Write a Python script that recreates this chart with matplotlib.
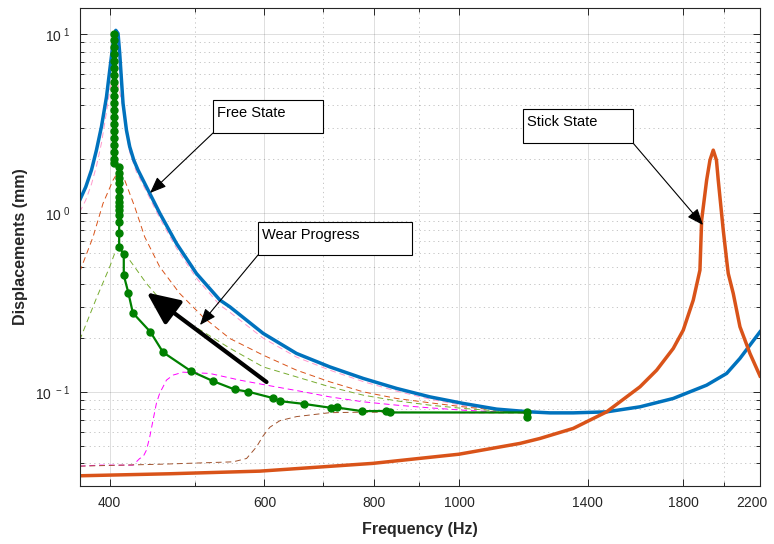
import numpy as np
import matplotlib
matplotlib.use('Agg')
import matplotlib.pyplot as plt
from matplotlib.patches import Rectangle, ArrowStyle
from matplotlib.ticker import FixedLocator, LogLocator, NullFormatter
from matplotlib.transforms import ScaledTranslation

plt.rcParams['font.family'] = ['Liberation Sans', 'DejaVu Sans']
plt.rcParams['mathtext.fontset'] = 'custom'
plt.rcParams['mathtext.rm'] = 'Liberation Sans'

# ----------------------------------------------------------------------------
## Data
# free state FRF
free_f = [369.7, 375.6, 381.3, 386.3, 391.4, 396.6, 400.0, 403.5, 406.4, 408.8, 410.6, 412.5, 414.2,
          417.9, 421.5, 426.0, 430.8, 444.2, 456.0, 476.5, 502.1, 533.9, 547.9, 598.0, 652.7, 712.2,
          777.4, 848.6, 925.9, 1010.4, 1102.9, 1203.5, 1268.4, 1348.1, 1471.5, 1606.1, 1752.5, 1912.8,
          2015.8, 2087.3, 2142.8, 2200.0]
free_y = [1.18, 1.40, 1.74, 2.25, 3.04, 4.46, 6.29, 8.87, 10.5, 10.1, 7.80, 5.53, 4.10,
          2.91, 2.35, 1.98, 1.74, 1.29, 1.00, 0.677, 0.460, 0.327, 0.300, 0.213, 0.1645, 0.1384,
          0.1193, 0.1049, 0.0941, 0.0865, 0.0804, 0.0776, 0.0766, 0.0766, 0.0776, 0.0828, 0.0922, 0.1094,
          0.1272, 0.1543, 0.1831, 0.2173]

# stick state FRF
stick_f = [369.7, 468.1, 593.0, 797.2, 999.0, 1172.4, 1235.5, 1348.1, 1471.5, 1606.1, 1677.9, 1752.5,
           1799.0, 1846.8, 1879.5, 1887.9, 1912.8, 1929.5, 1946.2, 1962.6, 1971.9, 1998.0, 2015.8,
           2024.3, 2051.0, 2087.3, 2142.8, 2200.0]
stick_y = [0.0341, 0.0350, 0.0362, 0.0400, 0.0450, 0.0517, 0.0551, 0.0627, 0.0776, 0.1071, 0.1327, 0.1754,
           0.2221, 0.3266, 0.4804, 0.914, 1.529, 1.978, 2.249, 1.978, 1.529, 0.803, 0.546,
           0.460, 0.356, 0.232, 0.1645, 0.1231]

# wear progress (peak tracking)
wear_f = [404, 404, 404, 404, 404, 404, 404, 404, 404, 404, 404, 404, 404, 404, 404, 404, 404, 404, 404, 404,
          410, 410, 410, 410, 410, 410, 410, 410, 410, 410, 410, 410, 410,
          415, 415, 420, 425, 445, 460, 495, 525, 555, 575, 614, 625, 665, 715, 725, 775, 825, 835, 1193, 1193]
wear_y = [10.0, 9.26, 8.46, 7.73, 7.07, 6.46, 5.90, 5.39, 4.93, 4.50, 4.12, 3.76, 3.44, 3.14, 2.87, 2.62, 2.40,
          2.19, 2.00, 1.90,
          1.81, 1.67, 1.57, 1.47, 1.345, 1.229, 1.152, 1.094, 1.039, 0.975, 0.891, 0.773, 0.646,
          0.590, 0.450, 0.359, 0.277, 0.217, 0.167, 0.131, 0.115, 0.1035, 0.1006, 0.0926, 0.0891, 0.0860,
          0.0817, 0.0821, 0.0783, 0.0785, 0.0770, 0.0770, 0.0728]

# intermediate FRFs (dashed)
pink_f = [369.7, 375.6, 381.3, 386.3, 391.4, 396.6, 400.0, 403.2, 406.4, 409.6, 412.5, 414.2, 417.9, 421.5,
          429.0, 432.7, 444.2, 456.0, 476.5, 502.1, 533.9, 547.9, 598.0, 652.7, 712.2, 777.4, 848.6, 925.9,
          1010.4, 1102.9, 1193.1]
pink_y = [1.013, 1.182, 1.452, 1.830, 2.460, 3.666, 4.866, 5.679, 5.679, 4.993, 4.279, 3.909, 2.763, 2.19,
          1.695, 1.569, 1.213, 0.938, 0.637, 0.4334, 0.3062, 0.2799, 0.2003, 0.1569, 0.1327, 0.1145, 0.1013,
          0.0914, 0.0841, 0.0793, 0.0763]

orng_f = [369.7, 382.9, 393.0, 403.5, 408.2, 416.0, 427.1, 438.4, 456.0, 480.5, 510.8, 547.9, 598.0, 652.7,
          712.2, 777.4, 848.6, 925.9, 1010.4, 1102.9, 1193.1]
orng_y = [0.470, 0.737, 1.133, 1.529, 1.680, 1.529, 1.084, 0.737, 0.501, 0.356, 0.263, 0.1995, 0.161, 0.1327,
          0.1142, 0.1004, 0.0922, 0.0872, 0.0828, 0.0793, 0.0770]

lgrn_f = [369.7, 386.3, 400.0, 407.1, 421.5, 440.4, 464.1, 493.3, 547.9, 598.0, 652.7, 712.2, 777.4, 848.6,
          925.9, 1010.4, 1102.9, 1193.1]
lgrn_y = [0.1952, 0.335, 0.5012, 0.635, 0.5463, 0.4048, 0.2996, 0.2419, 0.1761, 0.1384, 0.1217, 0.1071,
          0.0962, 0.0894, 0.0846, 0.0811, 0.0786, 0.0766]

mgnt_f = [369.7, 389.6, 425.2, 432.7, 436.5, 440.4, 444.2, 448.1, 452.1, 456.0, 460.0, 464.1, 472.2, 484.7,
          519.9, 562.6, 603.4, 658.4, 712.2, 777.4, 848.6, 925.9, 1010.4, 1102.9, 1193.1]
mgnt_y = [0.0386, 0.0391, 0.0391, 0.0426, 0.0435, 0.0474, 0.0561, 0.0698, 0.0868, 0.0987, 0.1071, 0.1167,
          0.1245, 0.1293, 0.1272, 0.1167, 0.1094, 0.1013, 0.0941, 0.0883, 0.0846, 0.0817, 0.0793, 0.0776, 0.0766]

brwn_f = [369.7, 460.0, 552.8, 572.6, 587.8, 597.7, 608.7, 624.9, 652.7, 712.2, 777.4, 925.9, 1193.1]
brwn_y = [0.0386, 0.0396, 0.0408, 0.0426, 0.0495, 0.0568, 0.0637, 0.0693, 0.0730, 0.0768, 0.0773, 0.0770, 0.0766]

xticks = [400, 600, 800, 1000, 1400, 1800, 2200]
xminor = [500, 700, 900, 2000]
yticks = [0.1, 1, 10]
ylabels = [r'$\mathregular{10^{\ -1}}$', r'$\mathregular{10^{\ 0}}$', r'$\mathregular{10^{\ 1}}$']

# ----------------------------------------------------------------------------
W, H = 774, 544
def figxy(px, py):
    return (px / W, 1 - py / H)

dk = '#262626'
fig, ax = plt.subplots()
fig.set_size_inches(W / 100, H / 100)
fig.subplots_adjust(left=80 / W, right=760 / W, top=1 - 8 / H, bottom=1 - 486 / H)

dash = (6, 4)
ax.plot(pink_f, pink_y, color='#ff99cc', lw=0.7, dashes=dash)
ax.plot(orng_f, orng_y, color='#d95319', lw=0.7, dashes=dash)
ax.plot(lgrn_f, lgrn_y, color='#77ac30', lw=0.7, dashes=dash)
ax.plot(mgnt_f, mgnt_y, color='#ff00ff', lw=0.7, dashes=dash)
ax.plot(brwn_f, brwn_y, color='#a0522d', lw=0.7, dashes=dash)
ax.plot(free_f, free_y, color='#0072bd', lw=2.5)
ax.plot(stick_f, stick_y, color='#d95319', lw=2.5)
ax.plot(wear_f, wear_y, color=(0, 0.5, 0), lw=1.6, marker='o', ms=5)

ax.set_xscale('log')
ax.set_yscale('log')
ax.set_xlim(370, 2200)
ax.set_ylim(0.0299, 14)
ax.xaxis.set_major_locator(FixedLocator(xticks))
ax.set_xticklabels([str(t) for t in xticks])
ax.xaxis.set_minor_locator(FixedLocator(xminor))
ax.xaxis.set_minor_formatter(NullFormatter())
ax.yaxis.set_major_locator(FixedLocator(yticks))
ax.set_yticklabels(ylabels)
ax.yaxis.set_minor_locator(LogLocator(base=10, subs=np.arange(2, 10)))
ax.yaxis.set_minor_formatter(NullFormatter())

ax.grid(True, which='major', color=dk, alpha=0.15, lw=0.7)
ax.grid(True, which='minor', color=dk, alpha=0.3, lw=0.6, ls=(0, (1.5, 4)))
ax.set_axisbelow(True)
ax.tick_params(which='both', direction='in', top=True, right=True, colors=dk, width=0.7, labelsize=10)
ax.tick_params(which='major', length=5, pad=7)
ax.tick_params(which='minor', length=3)
for s in ax.spines.values():
    s.set_color(dk)
    s.set_linewidth(0.8)

# keep the last x label inside the figure, as in the reference
lastlab = ax.get_xticklabels()[-1]
lastlab.set_transform(lastlab.get_transform() + ScaledTranslation(-0.08, 0, fig.dpi_scale_trans))

ax.set_xlabel('Frequency (Hz)', fontsize=11.5, fontweight='bold', color=dk, labelpad=9)
ax.set_ylabel('Displacements (mm)', fontsize=11.5, fontweight='bold', color=dk, labelpad=5)

# text boxes
def textbox(x0, y0, x1, y1, txt):
    bl = figxy(x0, y1)
    fig.add_artist(Rectangle(bl, (x1 - x0) / W, (y1 - y0) / H, transform=fig.transFigure,
                             facecolor='white', edgecolor='black', lw=0.8, zorder=5))
    fig.text(*figxy(x0 + 4, y0 + 13), txt, fontsize=10.5, ha='left', va='center', color='black', zorder=6)

textbox(213, 100, 323, 133, 'Free State')
textbox(258, 222, 412, 255, 'Wear Progress')
textbox(523, 109, 633, 143, 'Stick State')

thin = ArrowStyle('-|>', head_length=1.0, head_width=0.4)
for tail, head in [((213, 133), (150, 193)), ((258, 255), (200, 325)), ((633, 143), (703, 225))]:
    ax.annotate('', xy=figxy(*head), xytext=figxy(*tail), xycoords='figure fraction',
                textcoords='figure fraction',
                arrowprops=dict(arrowstyle=thin, mutation_scale=10, color='black', lw=0.8,
                                shrinkA=0, shrinkB=0), zorder=6)

thick = ArrowStyle('-|>', head_length=1.0, head_width=0.45)
ax.annotate('', xy=figxy(146.7, 292.5), xytext=figxy(266.5, 382), xycoords='figure fraction',
            textcoords='figure fraction',
            arrowprops=dict(arrowstyle=thick, mutation_scale=20, color='black', lw=3,
                            shrinkA=0, shrinkB=0), zorder=6)

fig.savefig('out.png', dpi=100)
plt.close()
